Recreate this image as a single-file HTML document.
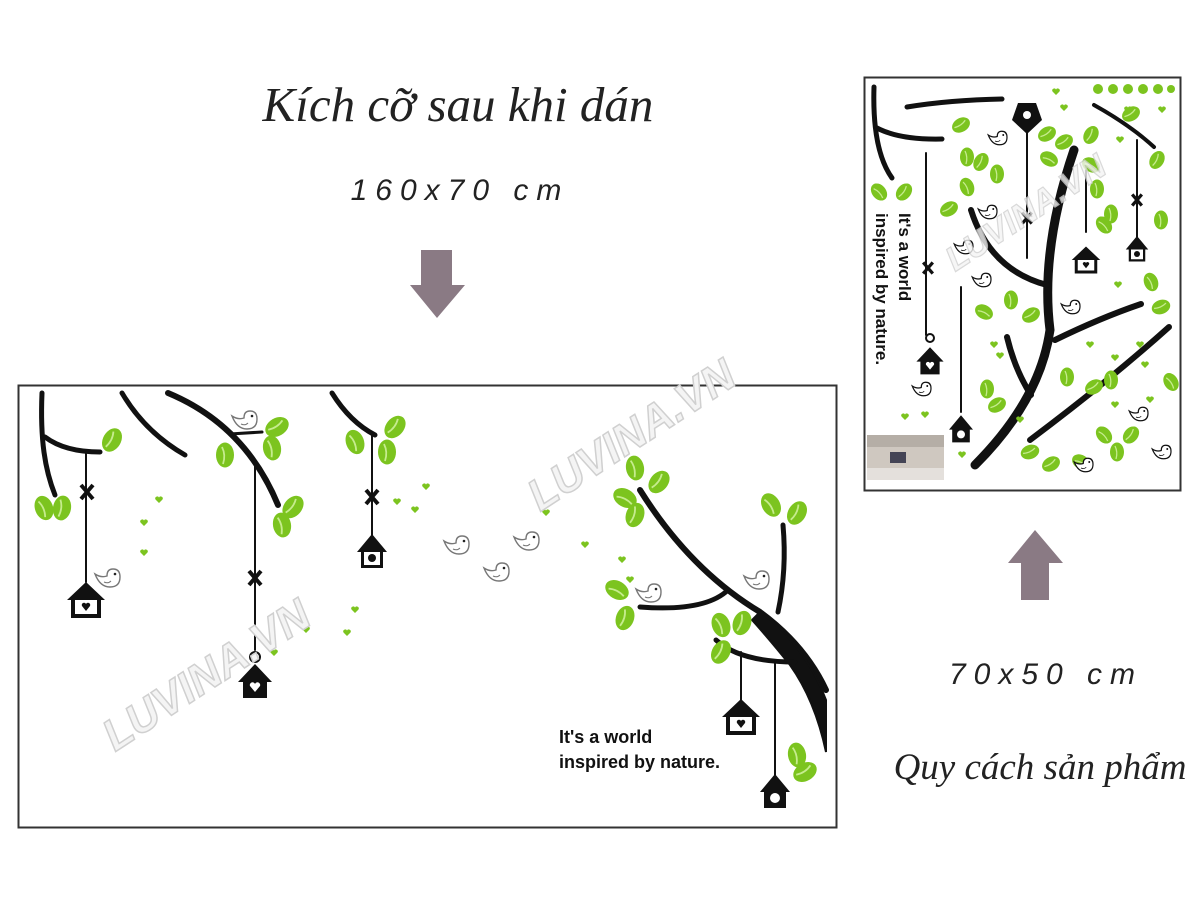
<!DOCTYPE html>
<html><head><meta charset="utf-8"><style>
html,body{margin:0;padding:0;background:#fff;}
svg{display:block}
</style></head><body>
<svg width="1200" height="900" viewBox="0 0 1200 900" xmlns="http://www.w3.org/2000/svg">
<defs>
<g id="lf"><ellipse cx="0" cy="0" rx="9" ry="12.5" fill="#7cc41f"/><path d="M-3,-8 Q1,0 -2,9" stroke="#c6ec8e" stroke-width="1.8" fill="none"/></g>
<g id="sl"><ellipse cx="0" cy="0" rx="7" ry="9.5" fill="#7cc41f"/><path d="M-2,-6 Q1,0 -1,7" stroke="#c6ec8e" stroke-width="1.3" fill="none"/></g>
<path id="ht" d="M0,3 L-3.5,-0.5 A2,2 0 0 1 0,-2.5 A2,2 0 0 1 3.5,-0.5 Z" fill="#7cc41f"/>
<g id="bd"><path d="M-13,-4 Q-8,9 2,9 Q12,9 12,-1 Q12,-9 5,-9 Q-1,-9 -1,-2 Q-7,0 -13,-4 Z" fill="#fff" stroke="#777" stroke-width="1.4"/><circle cx="7" cy="-4" r="1.3" fill="#222"/><path d="M-4,4 Q0,6 3,3" stroke="#777" stroke-width="1" fill="none"/></g>
<g id="bdk"><path d="M-13,-4 Q-8,9 2,9 Q12,9 12,-1 Q12,-9 5,-9 Q-1,-9 -1,-2 Q-7,0 -13,-4 Z" fill="#fff" stroke="#111" stroke-width="1.6"/><circle cx="7" cy="-4" r="1.3" fill="#111"/><path d="M-4,4 Q0,6 3,3" stroke="#111" stroke-width="1" fill="none"/></g>
<g id="hso"><path d="M0,-18 L-19,0 L-15,0 L-15,18 L15,18 L15,0 L19,0 Z" fill="#111"/><rect x="-11" y="0" width="22" height="14" fill="#fff"/><path d="M0,11 L-4,6 A2.2,2.2 0 0 1 0,4 A2.2,2.2 0 0 1 4,6 Z" fill="#111"/></g>
<g id="hsb"><path d="M0,-16 L-17,2 L-12,2 L-12,18 L12,18 L12,2 L17,2 Z" fill="#111"/><path d="M0,12 L-5,6 A2.6,2.6 0 0 1 0,4 A2.6,2.6 0 0 1 5,6 Z" fill="#fff"/></g>
<g id="hsc"><path d="M0,-16 L-15,2 L-11,2 L-11,18 L11,18 L11,2 L15,2 Z" fill="#111"/><rect x="-8" y="2" width="16" height="13" fill="#fff"/><circle cx="0" cy="8" r="4" fill="#111"/></g>
<g id="hsco"><path d="M0,-16 L-15,2 L-11,2 L-11,18 L11,18 L11,2 L15,2 Z" fill="#111"/><circle cx="0" cy="8" r="5" fill="#fff"/></g>
<g id="x"><path d="M-6,-7 L6,7 M6,-7 L-6,7" stroke="#111" stroke-width="4"/></g>
</defs>

<text x="458" y="121" text-anchor="middle" font-family="Liberation Serif, serif" font-style="italic" font-size="49" fill="#222">Kích cỡ sau khi dán</text>
<text x="460" y="200" text-anchor="middle" font-family="Liberation Sans, sans-serif" font-style="italic" font-size="30" letter-spacing="8" fill="#222">160x70 cm</text>
<path d="M421,250 H452 V285 H465 L437,318 L410,285 H421 Z" fill="#8a7a84"/>
<path d="M1035,530 L1063,563 H1049 V600 H1021 V563 H1008 Z" fill="#8a7a84"/>
<text x="1046" y="684" text-anchor="middle" font-family="Liberation Sans, sans-serif" font-style="italic" font-size="30" letter-spacing="8" fill="#222">70x50 cm</text>
<text x="1040" y="779" text-anchor="middle" font-family="Liberation Serif, serif" font-style="italic" font-size="37" fill="#222">Quy cách sản phẩm</text>

<rect x="18.5" y="385.5" width="818" height="442" fill="#fff" stroke="#333" stroke-width="2"/>
<g fill="none" stroke="#111" stroke-linecap="round">
<path d="M42,393 C40,440 45,470 55,495" stroke-width="5"/>
<path d="M45,437 Q65,452 100,452" stroke-width="5"/>
<path d="M122,393 Q145,432 185,455" stroke-width="5"/>
<path d="M168,393 Q245,425 278,505" stroke-width="6"/>
<path d="M230,434 L262,432" stroke-width="3"/>
<path d="M332,393 Q350,422 375,435" stroke-width="5"/>
<path d="M86,452 V582 M255,465 V650 M372,432 V536" stroke-width="2"/>
<circle cx="255" cy="657" r="5" stroke-width="2"/>
<path d="M640,490 Q690,570 760,612 Q805,645 826,690" stroke-width="6"/>
<path d="M760,612 Q805,645 826,700 L826,752 Q815,700 790,665 Q770,640 752,620 Z" fill="#111" stroke-width="2"/>
<path d="M783,525 Q787,570 778,612" stroke-width="5"/>
<path d="M728,590 Q705,612 640,607" stroke-width="5"/>
<path d="M716,640 Q740,662 795,662" stroke-width="5"/>
<path d="M741,652 V700 M775,662 V775" stroke-width="2"/>
</g>
<use href="#x" x="87" y="492"/><use href="#x" x="255" y="578"/><use href="#x" x="372" y="497"/>
<use href="#hso" x="86" y="600"/>
<use href="#hsb" x="255" y="680"/>
<use href="#hsc" x="372" y="550"/>
<use href="#hso" x="741" y="717"/>
<use href="#hsco" x="775" y="790"/>
<g>
<use href="#lf" transform="translate(112,440) rotate(30)"/>
<use href="#lf" transform="translate(44,508) rotate(-20)"/><use href="#lf" transform="translate(62,508) rotate(10)"/>
<use href="#lf" transform="translate(225,455)"/><use href="#lf" transform="translate(272,448) rotate(-10)"/><use href="#lf" transform="translate(277,427) rotate(60)"/>
<use href="#lf" transform="translate(293,507) rotate(40)"/><use href="#lf" transform="translate(282,525) rotate(-10)"/>
<use href="#lf" transform="translate(355,442) rotate(-20)"/><use href="#lf" transform="translate(395,427) rotate(40)"/><use href="#lf" transform="translate(387,452)"/>
<use href="#lf" transform="translate(635,468) rotate(-10)"/><use href="#lf" transform="translate(659,482) rotate(40)"/><use href="#lf" transform="translate(625,498) rotate(-60)"/><use href="#lf" transform="translate(635,515) rotate(20)"/>
<use href="#lf" transform="translate(771,505) rotate(-30)"/><use href="#lf" transform="translate(797,513) rotate(30)"/>
<use href="#lf" transform="translate(617,590) rotate(-60)"/><use href="#lf" transform="translate(625,618) rotate(20)"/>
<use href="#lf" transform="translate(721,625) rotate(-20)"/><use href="#lf" transform="translate(742,623) rotate(20)"/><use href="#lf" transform="translate(721,652) rotate(30)"/>
<use href="#lf" transform="translate(797,755) rotate(-10)"/><use href="#lf" transform="translate(805,772) rotate(60)"/>
</g>
<g>
<use href="#ht" x="159" y="500"/><use href="#ht" x="144" y="523"/><use href="#ht" x="144" y="553"/><use href="#ht" x="426" y="487"/><use href="#ht" x="397" y="502"/><use href="#ht" x="415" y="510"/><use href="#ht" x="585" y="545"/><use href="#ht" x="622" y="560"/><use href="#ht" x="630" y="580"/><use href="#ht" x="355" y="610"/><use href="#ht" x="347" y="633"/><use href="#ht" x="306" y="630"/><use href="#ht" x="274" y="653"/><use href="#ht" x="546" y="513"/>
</g>
<use href="#bd" x="245" y="420"/><use href="#bd" x="108" y="578"/><use href="#bd" x="457" y="545"/><use href="#bd" x="527" y="541"/><use href="#bd" x="497" y="572"/><use href="#bd" x="649" y="593"/><use href="#bd" x="757" y="580"/>
<text x="559" y="743" font-family="Liberation Sans, sans-serif" font-weight="bold" font-size="18" fill="#111">It's a world</text>
<text x="559" y="768" font-family="Liberation Sans, sans-serif" font-weight="bold" font-size="18" fill="#111">inspired by nature.</text>
<g font-family="Liberation Sans, sans-serif" font-weight="bold" font-style="italic" fill="#f4f4f4" stroke="#d0d0d0" stroke-width="1.5">
<text transform="translate(115,752) rotate(-33)" font-size="44">LUVINA.VN</text>
<text transform="translate(540,512) rotate(-33)" font-size="44">LUVINA.VN</text>
</g>

<rect x="864.5" y="77.5" width="316" height="413" fill="#fff" stroke="#333" stroke-width="2"/>
<g fill="none" stroke="#111" stroke-linecap="round">
<path d="M874,87 Q872,150 892,178" stroke-width="5"/>
<path d="M877,128 Q900,140 942,139" stroke-width="5"/>
<path d="M907,107 Q950,100 1002,99" stroke-width="5"/>
<path d="M1094,105 Q1130,125 1154,147" stroke-width="4"/>
<path d="M1074,150 Q1040,250 1050,330 Q1040,400 975,465" stroke-width="9"/>
<path d="M971,210 Q990,270 1047,285" stroke-width="6"/>
<path d="M1055,340 Q1100,318 1141,304" stroke-width="6"/>
<path d="M1007,337 Q1015,370 1031,395" stroke-width="6"/>
<path d="M1030,440 Q1110,380 1169,327" stroke-width="6"/>
<path d="M926,153 V335 M961,287 V412 M1027,125 V258 M1086,170 V232 M1137,140 V240" stroke-width="2"/>
<circle cx="930" cy="338" r="4" stroke-width="2"/>
</g>
<use href="#x" transform="translate(928,268) scale(0.8)"/><use href="#x" transform="translate(1027,218) scale(0.8)"/><use href="#x" transform="translate(1137,200) scale(0.8)"/>
<use href="#hsb" transform="translate(930,360) scale(0.8)"/>
<use href="#hsco" transform="translate(961,428) scale(0.8)"/>
<path d="M1027,134 L1012,120 L1018,103 L1036,103 L1042,120 Z" fill="#111"/><circle cx="1027" cy="115" r="4" fill="#fff"/>
<use href="#hso" transform="translate(1086,260) scale(0.75)"/>
<use href="#hsc" transform="translate(1137,248) scale(0.75)"/>
<g>
<use href="#sl" transform="translate(879,192) rotate(-40)"/><use href="#sl" transform="translate(904,192) rotate(40)"/>
<use href="#sl" transform="translate(961,125) rotate(60)"/><use href="#sl" transform="translate(967,157)"/><use href="#sl" transform="translate(981,162) rotate(30)"/><use href="#sl" transform="translate(997,174)"/><use href="#sl" transform="translate(967,187) rotate(-20)"/><use href="#sl" transform="translate(949,209) rotate(60)"/>
<use href="#sl" transform="translate(1047,134) rotate(60)"/><use href="#sl" transform="translate(1049,159) rotate(-60)"/><use href="#sl" transform="translate(1091,135) rotate(30)"/><use href="#sl" transform="translate(1091,165) rotate(-60)"/><use href="#sl" transform="translate(1064,142) rotate(60)"/><use href="#sl" transform="translate(1097,189)"/><use href="#sl" transform="translate(1104,225) rotate(-40)"/><use href="#sl" transform="translate(1111,214)"/>
<use href="#sl" transform="translate(1157,160) rotate(30)"/><use href="#sl" transform="translate(1131,114) rotate(60)"/><use href="#sl" transform="translate(1161,220)"/><use href="#sl" transform="translate(1151,282) rotate(-20)"/><use href="#sl" transform="translate(1161,307) rotate(70)"/>
<use href="#sl" transform="translate(1011,300)"/><use href="#sl" transform="translate(984,312) rotate(-60)"/><use href="#sl" transform="translate(1031,315) rotate(60)"/><use href="#sl" transform="translate(1067,377)"/><use href="#sl" transform="translate(1094,387) rotate(60)"/><use href="#sl" transform="translate(1111,380)"/><use href="#sl" transform="translate(1171,382) rotate(-30)"/>
<use href="#sl" transform="translate(987,389)"/><use href="#sl" transform="translate(997,405) rotate(60)"/><use href="#sl" transform="translate(1104,435) rotate(-40)"/><use href="#sl" transform="translate(1131,435) rotate(40)"/><use href="#sl" transform="translate(1051,464) rotate(60)"/><use href="#sl" transform="translate(1081,462) rotate(-60)"/><use href="#sl" transform="translate(1117,452)"/><use href="#sl" transform="translate(1030,452) rotate(70)"/>
</g>
<g>
<use href="#ht" x="1056" y="92"/><use href="#ht" x="1064" y="108"/><use href="#ht" x="1128" y="110"/><use href="#ht" x="1162" y="110"/><use href="#ht" x="1120" y="140"/><use href="#ht" x="1118" y="285"/><use href="#ht" x="1090" y="345"/><use href="#ht" x="994" y="345"/><use href="#ht" x="1000" y="356"/><use href="#ht" x="1115" y="358"/><use href="#ht" x="1145" y="365"/><use href="#ht" x="1140" y="345"/><use href="#ht" x="1115" y="405"/><use href="#ht" x="905" y="417"/><use href="#ht" x="925" y="415"/><use href="#ht" x="962" y="455"/><use href="#ht" x="1020" y="420"/><use href="#ht" x="1150" y="400"/>
</g>
<g fill="#7cc41f"><circle cx="1098" cy="89" r="5"/><circle cx="1113" cy="89" r="5"/><circle cx="1128" cy="89" r="5"/><circle cx="1143" cy="89" r="5"/><circle cx="1158" cy="89" r="5"/><circle cx="1171" cy="89" r="4"/></g>
<use href="#bdk" transform="translate(998,138) scale(0.75)"/><use href="#bdk" transform="translate(988,212) scale(0.75)"/><use href="#bdk" transform="translate(964,247) scale(0.75)"/><use href="#bdk" transform="translate(982,280) scale(0.75)"/><use href="#bdk" transform="translate(1071,307) scale(0.75)"/><use href="#bdk" transform="translate(922,389) scale(0.75)"/><use href="#bdk" transform="translate(1139,414) scale(0.75)"/><use href="#bdk" transform="translate(1162,452) scale(0.75)"/><use href="#bdk" transform="translate(1084,465) scale(0.75)"/>
<g font-family="Liberation Sans, sans-serif" font-weight="bold" font-size="17" fill="#111">
<text transform="translate(899,213) rotate(90)">It's a world</text>
<text transform="translate(876,213) rotate(90)">inspired by nature.</text>
</g>
<rect x="867" y="435" width="77" height="45" fill="#cfc8c0"/><rect x="867" y="435" width="77" height="12" fill="#b5aea6"/><rect x="890" y="452" width="16" height="11" fill="#445"/><rect x="867" y="468" width="77" height="12" fill="#e4e0dc"/>
<text transform="translate(955,272) rotate(-33)" font-family="Liberation Sans, sans-serif" font-weight="bold" font-style="italic" font-size="34" fill="#f4f4f4" stroke="#d0d0d0" stroke-width="1.2" opacity="0.8">LUVINA.VN</text>
</svg>
</body></html>
